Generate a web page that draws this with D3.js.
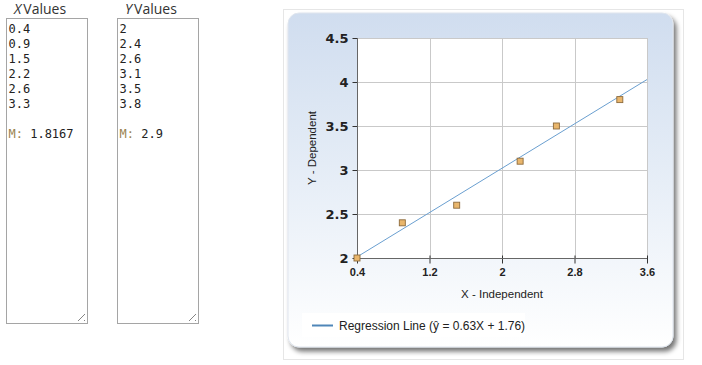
<!DOCTYPE html>
<html>
<head>
<meta charset="utf-8">
<script src="https://cdn.jsdelivr.net/npm/d3@7"></script>
<style>
body { margin:0; background:#fff; }
svg { display:block; }
</style>
</head>
<body>
<div id="chart"></div>
<script>
// data
var xValues = [0.4, 0.9, 1.5, 2.2, 2.6, 3.3],
	yValues = [2, 2.4, 2.6, 3.1, 3.5, 3.8],
	xMeanLabel = "1.8167",
	yMeanLabel = "2.9",
	xTicks = [0.4, 1.2, 2, 2.8, 3.6],
	yTicks = [2, 2.5, 3, 3.5, 4, 4.5],
	regression = [0.63, 1.76]; // slope, intercept

var W = 702, H = 365;

var svg = d3.select('#chart').append('svg')
	.attr('width', W)
	.attr('height', H);

var defs = svg.append('defs');
var grad = defs.append('linearGradient').attr('id','panelGrad')
	.attr('x1',0).attr('y1',0).attr('x2',0).attr('y2',1);
grad.append('stop').attr('offset','0%').attr('stop-color','#d0ddef');
grad.append('stop').attr('offset','45%').attr('stop-color','#e4ecf6');
grad.append('stop').attr('offset','100%').attr('stop-color','#ffffff');

var shadow = defs.append('filter').attr('id','shadow')
	.attr('x','-5%').attr('y','-5%').attr('width','115%').attr('height','115%');
shadow.append('feGaussianBlur').attr('in','SourceAlpha').attr('stdDeviation',2.5).attr('result','b');
shadow.append('feOffset').attr('in','b').attr('dx',3).attr('dy',4).attr('result','o');
shadow.append('feComponentTransfer').attr('in','o').attr('result','s')
	.append('feFuncA').attr('type','linear').attr('slope',0.55);
var merge = shadow.append('feMerge');
merge.append('feMergeNode').attr('in','s');
merge.append('feMergeNode').attr('in','SourceGraphic');

// --- the two value boxes ---
function valueBox(x, letter, vals, mean){
	var g = svg.append('g').attr('transform','translate('+x+',0)');
	var head = g.append('text')
		.attr('x', 8).attr('y', 14)
		.style('font-family','"Open Sans", "Noto Sans", sans-serif')
		.style('font-size','14px')
		.style('fill','#333');
	head.append('tspan').style('font-style','italic').text(letter);
	head.append('tspan').attr('dx', 2).text('Values');

	g.append('rect')
		.attr('x', 0.5).attr('y', 18.5)
		.attr('width', 81).attr('height', 305)
		.style('fill','#fff')
		.style('stroke','#a5a5a5');

	g.selectAll('.val')
		.data(vals)
		.enter().append('text')
		.attr('class','val')
		.attr('x', 2.5)
		.attr('y', function(d,i){ return 33 + i*15; })
		.style('font-family','"DejaVu Sans Mono", monospace')
		.style('font-size','12px')
		.style('fill','#222')
		.text(function(d){ return d; });

	var m = g.append('text')
		.attr('x', 2.5).attr('y', 33 + (vals.length+1)*15)
		.style('font-family','"DejaVu Sans Mono", monospace')
		.style('font-size','12px')
		.style('fill','#222');
	m.append('tspan').style('fill','#9a8350').text('M:');
	m.append('tspan').text(' ' + mean);

	// resize grip
	[0,4].forEach(function(o){
		g.append('line')
			.attr('x1', 72 + o*1.5).attr('y1', 321)
			.attr('x2', 79).attr('y2', 314 + o*1.5)
			.style('stroke','#666').style('stroke-width',0.8);
	});
}
valueBox(6, 'X', xValues, xMeanLabel);
valueBox(117, 'Y', yValues, yMeanLabel);

// --- chart panel ---
svg.append('rect')
	.attr('x', 283.5).attr('y', 9.5)
	.attr('width', 400).attr('height', 350)
	.style('fill','#fff')
	.style('stroke','#e6e6e6');

svg.append('rect')
	.attr('x', 288).attr('y', 13)
	.attr('width', 385).attr('height', 334)
	.attr('rx', 11).attr('ry', 11)
	.style('fill','url(#panelGrad)')
	.style('stroke','#dfe5ee')
	.attr('filter','url(#shadow)');

var plotL = 357, plotR = 647, plotT = 38, plotB = 258;

var x = d3.scaleLinear().domain([0.4, 3.6]).range([plotL, plotR]);
var y = d3.scaleLinear().domain([2, 4.5]).range([plotB, plotT]);

var plot = svg.append('g');

plot.append('rect')
	.attr('x', plotL).attr('y', plotT)
	.attr('width', plotR - plotL).attr('height', plotB - plotT)
	.style('fill','#fff');

// grid
plot.selectAll('.vgrid')
	.data(xTicks.slice(1))
	.enter().append('line')
	.attr('x1', function(d){ return Math.round(x(d))+0.5; })
	.attr('x2', function(d){ return Math.round(x(d))+0.5; })
	.attr('y1', plotT).attr('y2', plotB)
	.style('stroke','#c9c9c9');
plot.selectAll('.hgrid')
	.data(yTicks.slice(1))
	.enter().append('line')
	.attr('y1', function(d){ return Math.round(y(d))+0.5; })
	.attr('y2', function(d){ return Math.round(y(d))+0.5; })
	.attr('x1', plotL).attr('x2', plotR)
	.style('stroke','#c9c9c9');

// axes
var xAxis = d3.axisBottom(x).tickValues(xTicks).tickSize(5).tickPadding(5)
	.tickFormat(function(d){ return d; });
var yAxis = d3.axisLeft(y).tickValues(yTicks).tickSize(5).tickPadding(4)
	.tickFormat(function(d){ return d; });

var gx = plot.append('g')
	.attr('transform','translate(0,'+(plotB+0.5)+')')
	.call(xAxis);
gx.select('.domain').remove();
gx.append('line').attr('x1', plotL).attr('x2', plotR).style('stroke','#666');
gx.selectAll('.tick line').attr('y1',-3).style('stroke','#333');
gx.selectAll('.tick text')
	.style('font-family','"Liberation Sans Narrow", "Liberation Sans", Arial, sans-serif')
	.style('font-weight','bold')
	.style('font-size','11px')
	.style('fill','#222');

var gy = plot.append('g')
	.attr('transform','translate('+(plotL+0.5)+',0)')
	.call(yAxis);
gy.select('.domain').remove();
gy.append('line').attr('y1', plotT).attr('y2', plotB).style('stroke','#666');
gy.selectAll('.tick line').style('stroke','#333');
gy.selectAll('.tick text')
	.style('font-family','"DejaVu Sans", sans-serif')
	.style('font-weight','bold')
	.style('font-size','13px')
	.style('fill','#222');

// regression line
var dom = x.domain();
plot.append('line')
	.attr('x1', x(dom[0])).attr('y1', y(regression[0]*dom[0] + regression[1]))
	.attr('x2', x(dom[1])).attr('y2', y(regression[0]*dom[1] + regression[1]))
	.style('stroke','#6a9fd0')
	.style('stroke-width',1);

// points
plot.selectAll('.pt')
	.data(xValues)
	.enter().append('rect')
	.attr('class','pt')
	.attr('x', function(d){ return x(d) - 3; })
	.attr('y', function(d,i){ return y(yValues[i]) - 3; })
	.attr('width', 6).attr('height', 6)
	.style('fill','#e9b66c')
	.style('stroke','#8c6a3c')
	.style('stroke-width',0.9);

// axis titles
svg.append('text')
	.attr('x', (plotL+plotR)/2).attr('y', 298)
	.attr('text-anchor','middle')
	.style('font-family','"Liberation Sans", Arial, sans-serif')
	.style('font-size','11.5px')
	.style('fill','#222')
	.text('X - Independent');

svg.append('text')
	.attr('transform','translate(316,'+((plotT+plotB)/2)+') rotate(-90)')
	.attr('text-anchor','middle')
	.style('font-family','"Liberation Sans", Arial, sans-serif')
	.style('font-size','11.5px')
	.style('fill','#222')
	.text('Y - Dependent');

// legend
var leg = svg.append('g');
leg.append('rect')
	.attr('x', 302).attr('y', 313)
	.attr('width', 223).attr('height', 24)
	.style('fill','#fff');
leg.append('line')
	.attr('x1', 312).attr('x2', 333)
	.attr('y1', 325.5).attr('y2', 325.5)
	.style('stroke','#4f86b8').style('stroke-width',2);
leg.append('text')
	.attr('x', 339).attr('y', 329.5)
	.style('font-family','"Liberation Sans", Arial, sans-serif')
	.style('font-size','12px')
	.style('fill','#222')
	.text('Regression Line (\u0177 = ' + regression[0] + 'X + ' + regression[1] + ')');
</script>
</body>
</html>
